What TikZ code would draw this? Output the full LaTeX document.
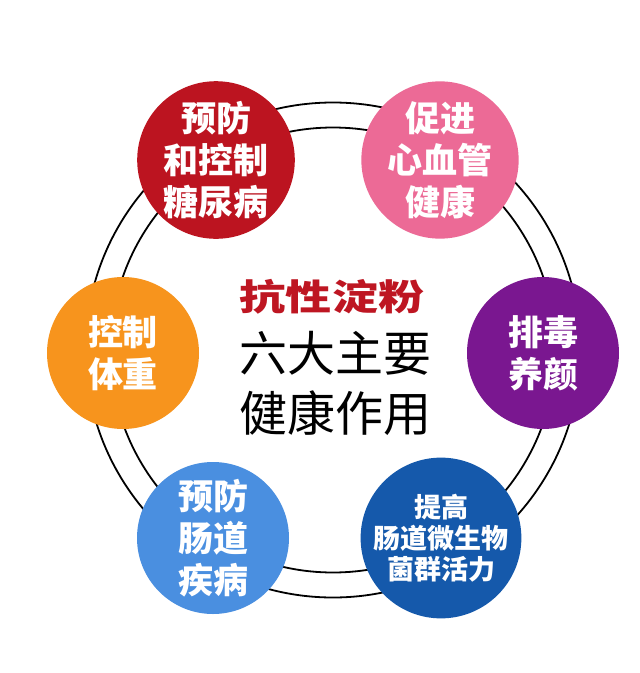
\documentclass[tikz,border=0pt]{standalone}
\usepackage{fontspec}
\setmainfont{Noto Sans CJK SC}
\usepackage{graphicx}
\definecolor{cred}{HTML}{BC1420}
\definecolor{cpink}{HTML}{EC6A96}
\definecolor{cpurple}{HTML}{7A1790}
\definecolor{corange}{HTML}{F7941D}
\definecolor{clblue}{HTML}{4A8FE0}
\definecolor{cdblue}{HTML}{1559AB}
\definecolor{ctitle}{HTML}{BE1622}
\tikzset{
  ring/.style={draw=black, line width=1.8pt},
  bubble/.style={circle, minimum size=152pt, inner sep=0pt, text=white, align=center,
    font=\fontsize{35pt}{42pt}\selectfont\bfseries},
  smallbubble/.style={bubble, font=\fontsize{27pt}{31pt}\selectfont\bfseries},
  ctext/.style={inner sep=0pt, font=\fontsize{48pt}{48pt}\selectfont, text=black}
}
\begin{document}
\begin{tikzpicture}[x=1pt,y=-1pt]
\useasboundingbox (0,0) rectangle (640,673);
\fill[white] (0,0) rectangle (640,673);
\coordinate (c) at (333,350);
\draw[ring] (c) circle[radius=247.5pt];
\draw[ring] (c) circle[radius=222.5pt];
\node[bubble, fill=cred] (n1) at (216,160) {预防\\和控制\\糖尿病};
\node[bubble, fill=cpink] (n2) at (440,160) {促进\\心血管\\健康};
\node[bubble, fill=cpurple] (n3) at (543,353) {排毒\\养颜};
\node[bubble, fill=corange] (n4) at (123,353) {控制\\体重};
\node[bubble, fill=clblue] (n5) at (213,538) {预防\\肠道\\疾病};
\node[smallbubble, fill=cdblue] (n6) at (441,538) {提高\\肠道微生物\\菌群活力};
\node[inner sep=0pt, text=ctitle, font=\fontsize{36pt}{36pt}\selectfont\bfseries] (t1) at (332,297) {\scalebox{1.28}[1]{抗性淀粉}};
\node[ctext] (t2) at (335,353) {六大主要};
\node[ctext] (t3) at (335,413) {健康作用};
\end{tikzpicture}
\end{document}
